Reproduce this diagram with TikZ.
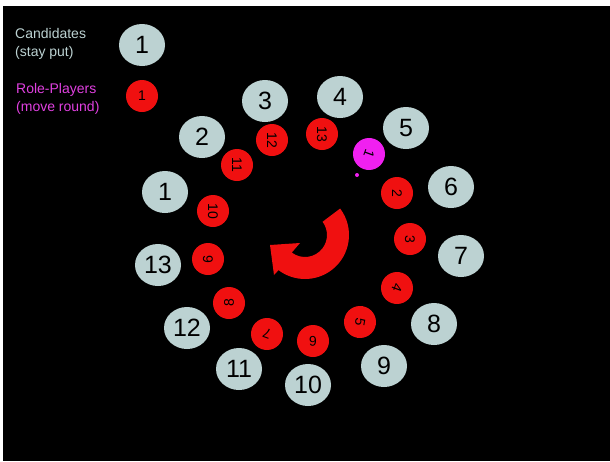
\documentclass[tikz,border=0pt]{standalone}
\usepackage{fontspec}
\setmainfont{Liberation Sans}
\usetikzlibrary{positioning, shapes.geometric, calc}
\definecolor{candgray}{HTML}{BCD2D2}
\definecolor{playred}{HTML}{F01010}
\definecolor{playpink}{HTML}{F020F0}
\definecolor{legpink}{HTML}{E040E0}

\begin{document}
\begin{tikzpicture}[x=1pt, y=-1pt,
  cand/.style={ellipse, fill=candgray, minimum width=46pt, minimum height=42pt, inner sep=0pt, font=\fontsize{25}{25}\selectfont},
  player/.style={circle, fill=#1, minimum size=32pt, inner sep=0pt, font=\fontsize{14}{14}\selectfont},
  player/.default=playred,
  legtext/.style={anchor=north west, align=left, inner sep=0pt, text=#1, font=\fontsize{14}{18}\selectfont},
]
  % page and black slide
  \fill[white] (0,0) rectangle (610,461);
  \fill[black] (3,6) rectangle (610,461);

  % legend
  \node[legtext=candgray] (legcandtxt) at (15,28) {Candidates\\(stay put)};
  \node[cand] (legcand) at (142,45) {1};
  \node[legtext=legpink] (legpltxt) at (16,83) {Role-Players\\(move round)};
  \node[player] (legpl) at (142,96) {1};

  % candidates, outer ring
  \node[cand] (cand1) at (165,192) {1};
  \node[cand] (cand2) at (202,137) {2};
  \node[cand] (cand3) at (265,101) {3};
  \node[cand] (cand4) at (340,97) {4};
  \node[cand] (cand5) at (406,128) {5};
  \node[cand] (cand6) at (451,187) {6};
  \node[cand] (cand7) at (461,256) {7};
  \node[cand] (cand8) at (434,324) {8};
  \node[cand] (cand9) at (384,366) {9};
  \node[cand] (cand10) at (308,385) {10};
  \node[cand] (cand11) at (239,369) {11};
  \node[cand] (cand12) at (187,328) {12};
  \node[cand] (cand13) at (158,265) {13};

  % role-players, inner ring
  \node[player=playpink, rotate=-110] (pl1) at (369,154) {1};
  \node[player, rotate=-90] (pl2) at (397,193) {2};
  \node[player, rotate=-90] (pl3) at (410,239) {3};
  \node[player, rotate=-110] (pl4) at (397,288) {4};
  \node[player, rotate=-100] (pl5) at (360,322) {5};
  \node[player, rotate=180] (pl6) at (313,341) {6};
  \node[player, rotate=160] (pl7) at (267,334) {7};
  \node[player, rotate=90] (pl8) at (229,303) {8};
  \node[player, rotate=-90] (pl9) at (208,259) {9};
  \node[player, rotate=-90] (pl10) at (213,211) {10};
  \node[player, rotate=-90] (pl11) at (237,165) {11};
  \node[player, rotate=-90] (pl12) at (272,140) {12};
  \node[player, rotate=-90] (pl13) at (322,134) {13};
  \fill[playpink] (357,175) circle[radius=2];

  % turning arrow
  \coordinate (rc) at (305,235);
  \fill[playred] ($(rc)+(-37:44)$) arc[start angle=-37, end angle=127, radius=44]
    -- (274,275) -- (270,245) -- (300,243)
    -- ($(rc)+(127:22)$) arc[start angle=127, end angle=-37, radius=22] -- cycle;
\end{tikzpicture}
\end{document}
